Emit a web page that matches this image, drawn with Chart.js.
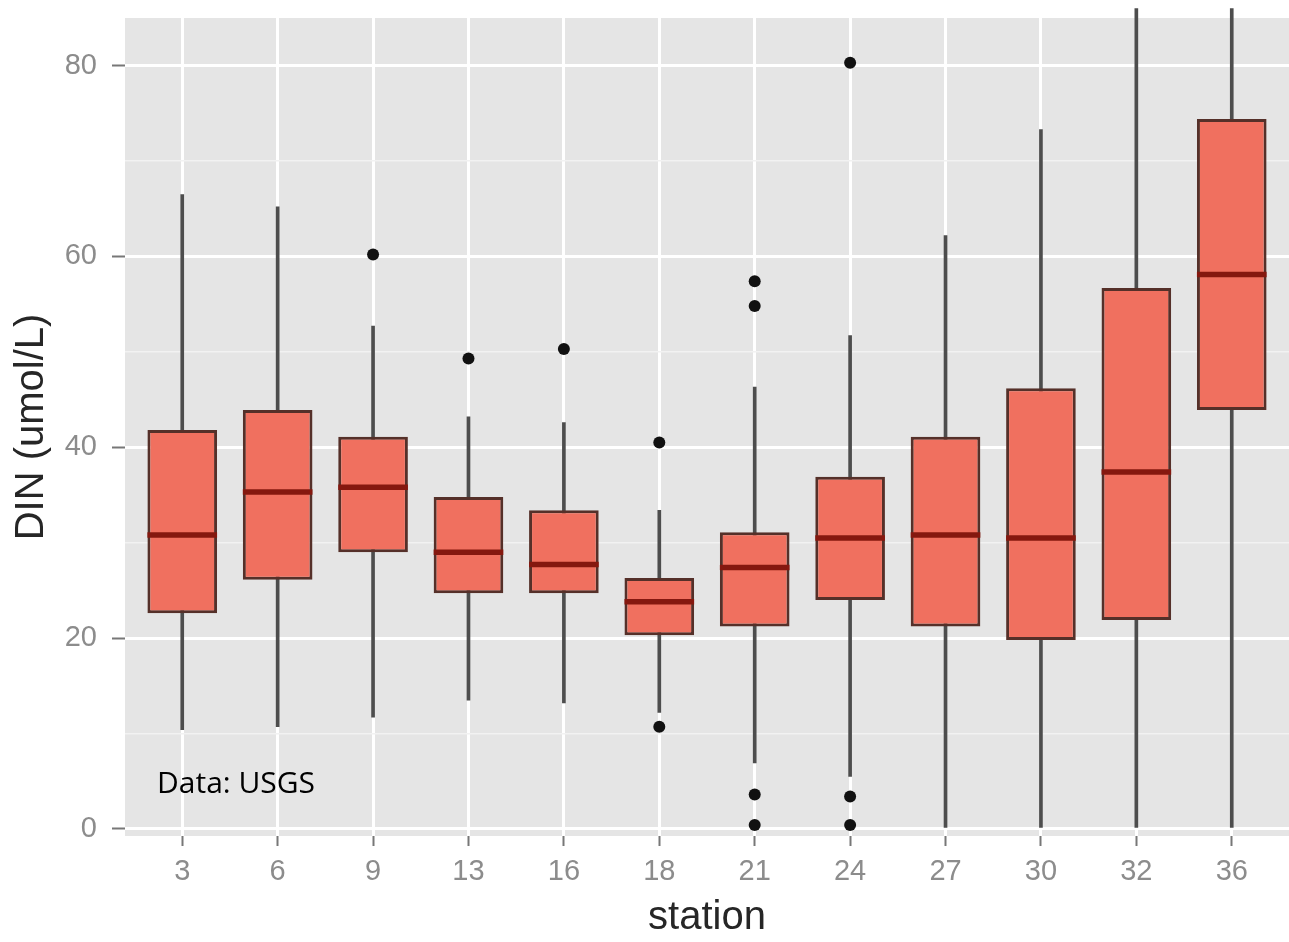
<!DOCTYPE html>
<html>
<head>
<meta charset="utf-8">
<script src="https://cdn.jsdelivr.net/npm/chart.js@4.4.1/dist/chart.umd.min.js"></script>
<style>
  html, body { margin: 0; padding: 0; background: #ffffff; }
  #wrap { width: 1289px; height: 942px; position: relative; }
</style>
</head>
<body>
<div id="wrap"><canvas id="c"></canvas></div>
<script>
// ---- data ----
const stations    = ['3', '6', '9', '13', '16', '18', '21', '24', '27', '30', '32', '36'];
const whiskerLow  = [10.4, 10.7, 11.7, 13.5, 13.2, 12.2, 6.9, 5.5, 0.0, 0.0, 0.0, 0.0];
const q1          = [22.6, 26.1, 29.0, 24.7, 24.7, 20.3, 21.2, 24.0, 21.2, 19.8, 21.9, 43.9];
const median      = [30.8, 35.3, 35.8, 29.0, 27.7, 23.8, 27.4, 30.5, 30.8, 30.5, 37.4, 58.1];
const q3          = [41.8, 43.9, 41.1, 34.8, 33.4, 26.3, 31.1, 36.9, 41.1, 46.2, 56.7, 74.4];
const whiskerHigh = [66.5, 65.2, 52.7, 43.2, 42.6, 33.4, 46.3, 51.7, 62.2, 73.3, 86.0, 86.0];
const outliers    = [[], [], [60.2], [49.3], [50.3], [40.5, 10.7], [57.4, 54.8, 3.6, 0.4], [80.3, 3.4, 0.4], [], [], [], []];
const yMajorTicks = [0, 20, 40, 60, 80];
const yMinorTicks = [10, 30, 50, 70];
const yTitle = 'DIN (umol/L)';
const xTitle = 'station';
const note = 'Data: USGS';

// ---- style ----
const BOX_W = 0.73;
const FILL = '#F0705F';
const BOX_LINE = '#553029';
const MEDIAN_LINE = '#85180f';
const WHISKER = '#4d4d4d';
const PANEL = '#E5E5E5';

const idx = stations.map((_, i) => i);
const whiskerData = idx.map(i => ({ x: i, y: [whiskerLow[i], whiskerHigh[i]] }));
const boxData = idx.map(i => ({ x: i, y: [q1[i], q3[i]] }));
const medianData = [];
idx.forEach(i => {
  medianData.push({ x: i - BOX_W / 2, y: median[i] });
  medianData.push({ x: i + BOX_W / 2, y: median[i] });
  medianData.push({ x: i + 0.5, y: null });
});
const outlierData = [];
outliers.forEach((arr, i) => arr.forEach(v => outlierData.push({ x: i, y: v })));

const bgPlugin = {
  id: 'panelBg',
  beforeDraw(chart) {
    const { ctx, chartArea: a } = chart;
    ctx.save();
    ctx.fillStyle = '#ffffff';
    ctx.fillRect(0, 0, chart.width, chart.height);
    ctx.fillStyle = PANEL;
    ctx.fillRect(a.left, a.top, a.right - a.left, a.bottom - a.top);
    ctx.restore();
  },
  afterDatasetsDraw(chart) {
    const { ctx, chartArea: a } = chart;
    ctx.save();
    ctx.fillStyle = '#000000';
    ctx.font = '30px "Open Sans"';
    ctx.textBaseline = 'alphabetic';
    ctx.textAlign = 'left';
    ctx.fillText(note, a.left + 32, a.bottom - 43);
    ctx.restore();
  }
};

function zeroPad(s) {
  s.paddingTop = 0; s.paddingBottom = 0; s.paddingLeft = 0; s.paddingRight = 0;
}

new Chart(document.getElementById('c'), {
  type: 'bar',
  data: {
    datasets: [
      {
        type: 'bar', data: whiskerData, grouped: false, order: 4,
        barThickness: 3, backgroundColor: WHISKER, borderWidth: 0, clip: false
      },
      {
        type: 'bar', data: boxData, grouped: false, order: 3,
        barPercentage: BOX_W, categoryPercentage: 1,
        backgroundColor: FILL, borderColor: BOX_LINE, borderWidth: 3, borderSkipped: false
      },
      {
        type: 'line', data: medianData, order: 2,
        borderColor: MEDIAN_LINE, borderWidth: 5.5, pointRadius: 0, spanGaps: false,
        fill: false, borderCapStyle: 'butt'
      },
      {
        type: 'scatter', data: outlierData, order: 1,
        pointRadius: 6, pointBackgroundColor: '#111111', pointBorderWidth: 0, showLine: false
      }
    ]
  },
  options: {
    responsive: true,
    maintainAspectRatio: false,
    animation: false,
    layout: { autoPadding: false, padding: { top: 18, right: 0, left: 0, bottom: 0 } },
    plugins: { legend: { display: false }, tooltip: { enabled: false } },
    scales: {
      x: {
        type: 'linear', min: -0.6, max: 11.6, offset: false,
        border: { display: false },
        grid: { offset: false, color: '#ffffff', lineWidth: 3, tickColor: '#777777', tickWidth: 2, tickLength: 10 },
        afterBuildTicks: (s) => { s.ticks = idx.map(i => ({ value: i })); },
        afterFit: (s) => { s.height = 106; zeroPad(s); },
        ticks: {
          autoSkip: false, maxRotation: 0, padding: 9, color: '#8c8c8c',
          font: { family: '"Liberation Sans", Arial, sans-serif', size: 29 },
          callback: (v) => stations[v]
        },
        title: {
          display: true, text: xTitle, color: '#262626', padding: { top: 0, bottom: 0 },
          font: { family: '"Liberation Sans", Arial, sans-serif', size: 40 }
        }
      },
      y: {
        type: 'linear', min: -0.75, max: 85,
        border: { display: false },
        grid: {
          color: (c) => yMajorTicks.includes(c.tick.value) ? '#ffffff' : '#F2F2F2',
          lineWidth: (c) => yMajorTicks.includes(c.tick.value) ? 3 : 1.5,
          tickColor: (c) => yMajorTicks.includes(c.tick.value) ? '#777777' : 'rgba(0,0,0,0)',
          tickWidth: 2, tickLength: 13
        },
        afterBuildTicks: (s) => {
          s.ticks = yMajorTicks.concat(yMinorTicks).sort((a, b) => a - b).map(v => ({ value: v }));
        },
        afterFit: (s) => { s.width = 125; zeroPad(s); },
        ticks: {
          padding: 15, color: '#8c8c8c',
          font: { family: '"Liberation Sans", Arial, sans-serif', size: 29 },
          callback: (v) => yMajorTicks.includes(v) ? String(v) : ''
        },
        title: {
          display: true, text: yTitle, color: '#262626', padding: { top: 8, bottom: 0 },
          font: { family: '"Liberation Sans", Arial, sans-serif', size: 40 }
        }
      }
    }
  },
  plugins: [bgPlugin]
});
</script>
</body>
</html>
